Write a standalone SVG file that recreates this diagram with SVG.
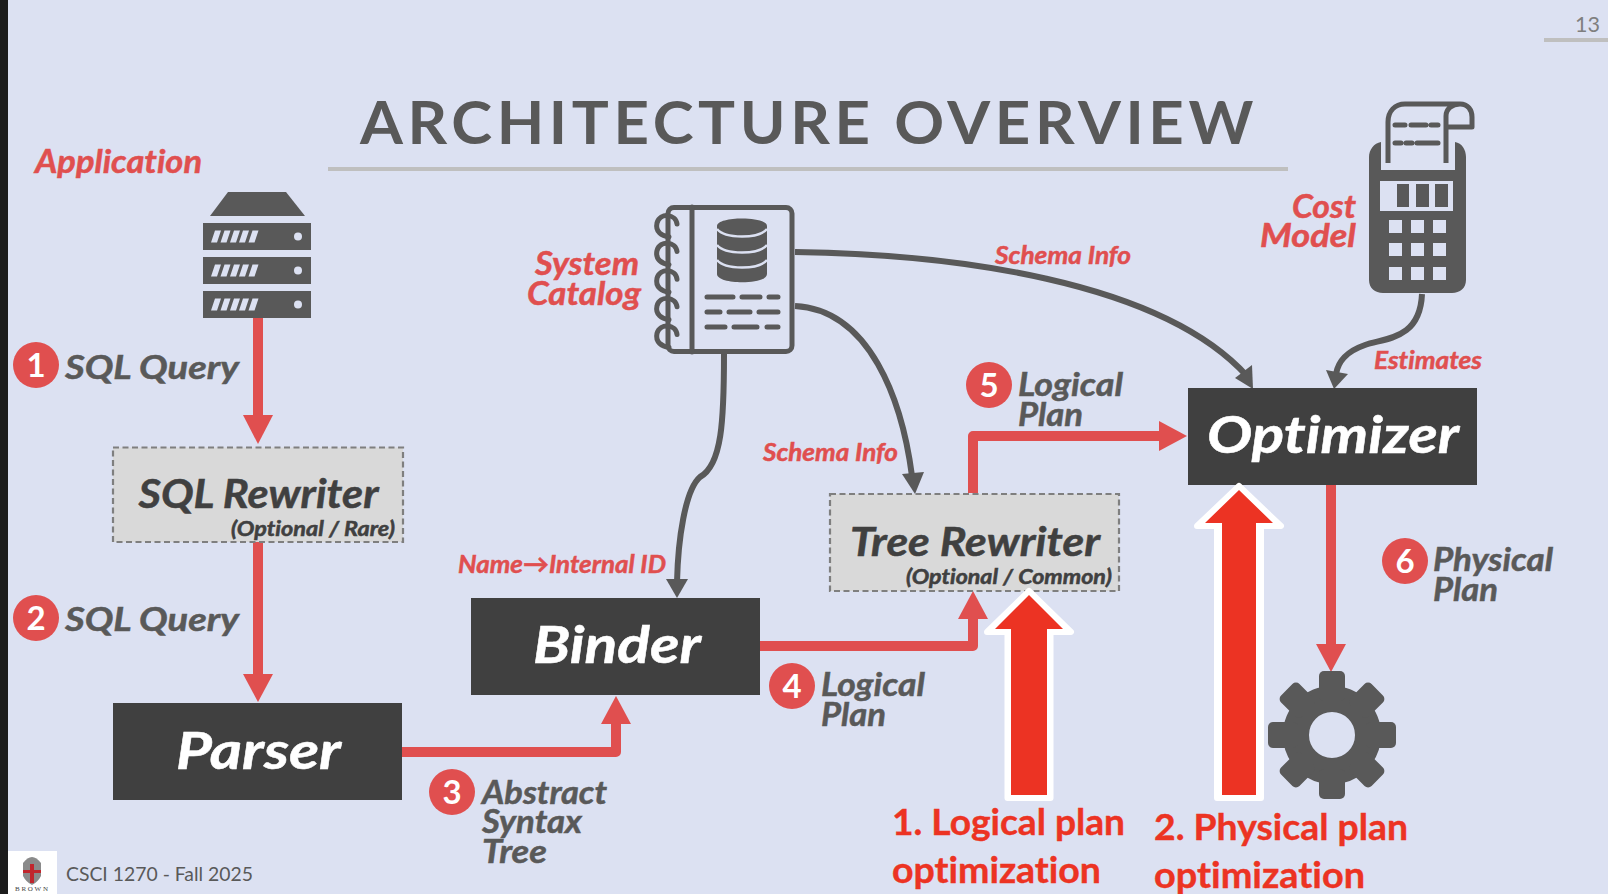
<svg xmlns="http://www.w3.org/2000/svg" width="1608" height="894" viewBox="0 0 1608 894">
<style>
text{font-family:Lato,"Liberation Sans",sans-serif;font-weight:700;font-style:italic;font-variant-ligatures:none}
.up{font-style:normal}
.gr{fill:#595959;stroke:#595959;stroke-width:.5}.dk{fill:#404040;stroke:#404040;stroke-width:.5}.rd{fill:#e04f4f;stroke:#e04f4f;stroke-width:.5}.wh{fill:#fff;stroke:#fff;stroke-width:.5}
.s30{font-size:33px}.s28{font-size:25px}.s42{font-size:40px}.s21{font-size:20px}.s54{font-size:52px}
.red{fill:none;stroke:#e04f4f;stroke-width:10;stroke-linejoin:round}
.redh{fill:#e04f4f}
.gl{fill:none;stroke:#595959;stroke-width:6}
.gh{fill:#595959}
.ic{fill:#595959}
.st{fill:none;stroke:#595959;stroke-width:5;stroke-linecap:round;stroke-linejoin:round}
.bl{fill:#404040}
.op{fill:#d9d9d9;stroke:#7f7f7f;stroke-width:2.2;stroke-dasharray:6 3.500}
.big{fill:#ec3323}
.bigw{fill:#fff;stroke:#fff;stroke-width:6;stroke-linejoin:round}
.num{fill:#fff;font-style:normal;font-size:33px;text-anchor:middle}
.bn{fill:#e04f4f}
.bt{fill:#ec3323;stroke:#ec3323;stroke-width:.4;font-style:normal;font-size:36px}
.sl{fill:#dce1f2}
</style>
<defs>
<g id="srv"><rect x="203" y="0" width="108" height="27" class="ic"/><circle cx="298" cy="13.500" r="4" class="sl"/><path class="sl" d="M215 7.500h6l-4 12h-6zM224.500 7.500h6l-4 12h-6zM234 7.500h6l-4 12h-6zM243 7.500h6l-4 12h-6zM252.500 7.500h6l-4 12h-6z"/></g>
<path id="coil" class="st" d="M677 224C676 214 660 212 657 223C655 232 662 236 669 237"/>
<rect id="tooth" x="-13" y="-64" width="26" height="30" rx="5" class="ic"/>
</defs>
<rect width="1608" height="894" fill="#dce1f2"/>
<rect width="8" height="894" fill="#1c1c1c"/>
<g id="slide-frame">
<text class="up" x="1575" y="32" font-size="22" fill="#7f7f7f" style="font-weight:400" textLength="25" lengthAdjust="spacingAndGlyphs">13</text>
<rect x="1544" y="38" width="64" height="4" fill="#bfbfbf"/>
<text class="up" fill="#595959" x="360" y="144" font-size="60" letter-spacing="4.500" textLength="898" lengthAdjust="spacingAndGlyphs">ARCHITECTURE OVERVIEW</text>
<rect x="328" y="167" width="960" height="4" fill="#bfbfbf"/>
<rect x="8" y="851" width="49" height="43" fill="#fff"/>
<path d="M23 863Q32 851 41 863V876Q38 882 32 885Q26 882 23 876Z" fill="#8a8a8a"/>
<path d="M30 864h4v6h7v3h-7v10h-4v-10h-7v-3h7z" fill="#c0262d"/>
<text class="up" x="15" y="891" font-size="7" fill="#444" textLength="33" style="font-family:'Liberation Serif',serif;font-weight:400">BROWN</text>
<text class="up" fill="#595959" x="66" y="881" font-size="20" style="font-weight:400" textLength="187" lengthAdjust="spacingAndGlyphs">CSCI 1270 - Fall 2025</text>
</g>
<g id="connectors">
<path class="red" d="M258 318V416"/><path class="redh" d="M243 415h30l-15 29z"/>
<path class="red" d="M258 542V675"/><path class="redh" d="M243 674h30l-15 28z"/>
<path class="red" d="M402 752H616V722"/><path class="redh" d="M601 724h30l-15 -28z"/>
<path class="red" d="M760 646H973V617"/><path class="redh" d="M958 619h30l-15 -28z"/>
<path class="red" d="M973 493V436H1162"/><path class="redh" d="M1159 421v30l28 -15z"/>
<path class="red" d="M1331 485V645"/><path class="redh" d="M1316 644h30l-15 28z"/>
<path class="gl" d="M795 252C950 254 1160 280 1247 376"/><path class="gh" d="M1235 378L1252 365L1253 389z"/>
<path class="gl" d="M795 306C870 310 902 400 912 476"/><path class="gh" d="M902 474L924 472L915 494z"/>
<path class="gl" d="M724 354C724 420 722 465 700 477C685 490 678 540 677 582"/><path class="gh" d="M666 579H688L677 598z"/>
<path class="gl" d="M1422 294C1420 340 1385 338 1365 345C1345 352 1338 362 1336 374"/><path class="gh" d="M1326 370L1348 374L1334 389z"/>
</g>
<g id="application"><text class="rd s30" x="35" y="173" textLength="167" lengthAdjust="spacingAndGlyphs">Application</text>
<path class="ic" d="M228 192H286L305 216H210Z"/>
<use href="#srv" y="223"/><use href="#srv" y="257"/><use href="#srv" y="291"/></g>
<g id="step1"><circle class="bn" cx="36" cy="365" r="23"/><text class="num" x="36" y="377">1</text><text class="gr s30" x="65" y="379" textLength="174" lengthAdjust="spacingAndGlyphs">SQL Query</text></g>
<g id="step2"><circle class="bn" cx="36" cy="618" r="23"/><text class="num" x="36" y="630">2</text><text class="gr s30" x="65" y="631" textLength="174" lengthAdjust="spacingAndGlyphs">SQL Query</text></g>
<g id="sql-rewriter"><rect class="op" x="113" y="447.500" width="290" height="94.500"/><text class="dk s42" x="138.500" y="508" textLength="240" lengthAdjust="spacingAndGlyphs">SQL Rewriter</text><text class="dk s21" x="231" y="536" textLength="164" lengthAdjust="spacingAndGlyphs">(Optional / Rare)</text></g>
<g id="parser"><rect class="bl" x="113" y="703" width="289" height="97"/><text class="wh s54" x="176" y="769" textLength="165" lengthAdjust="spacingAndGlyphs">Parser</text></g>
<g id="step3"><circle class="bn" cx="452" cy="792" r="23"/><text class="num" x="452" y="804">3</text><text class="gr s30" x="482" y="804" textLength="125" lengthAdjust="spacingAndGlyphs">Abstract</text><text class="gr s30" x="482" y="833" textLength="100" lengthAdjust="spacingAndGlyphs">Syntax</text><text class="gr s30" x="482" y="863" textLength="65" lengthAdjust="spacingAndGlyphs">Tree</text></g>
<g id="binder"><rect class="bl" x="471" y="598" width="289" height="97"/><text class="wh s54" x="533" y="663" textLength="168" lengthAdjust="spacingAndGlyphs">Binder</text><text class="rd s28" x="458" y="573" textLength="208" lengthAdjust="spacingAndGlyphs">Name→Internal ID</text></g>
<g id="step4"><circle class="bn" cx="792" cy="686" r="23"/><text class="num" x="792" y="698">4</text><text class="gr s30" x="821" y="696" textLength="104" lengthAdjust="spacingAndGlyphs">Logical</text><text class="gr s30" x="821" y="726" textLength="65" lengthAdjust="spacingAndGlyphs">Plan</text></g>
<g id="system-catalog"><text class="rd s30" x="535" y="275" textLength="104" lengthAdjust="spacingAndGlyphs">System</text><text class="rd s30" x="527" y="305" textLength="114" lengthAdjust="spacingAndGlyphs">Catalog</text>
<rect x="668" y="207.500" width="124" height="144" rx="6" class="st"/><path class="st" d="M692 207V352"/>
<use href="#coil"/><use href="#coil" y="27.600"/><use href="#coil" y="55.200"/><use href="#coil" y="82.800"/><use href="#coil" y="110.400"/>
<path class="ic" d="M717 226C717 216 767 216 767 226V274C767 285 717 285 717 274Z"/>
<path d="M717 229C725 239 759 239 767 229M717 245C725 255 759 255 767 245M717 260C725 270 759 270 767 260" fill="none" stroke="#dce1f2" stroke-width="2.500"/>
<path class="st" d="M707 297H733M742 297H760M769 297H778M707 312H720M729 312H750M759 312H778M707 327H725M734 327H757M767 327H778"/></g>
<g id="tree-rewriter"><rect class="op" x="830" y="494" width="289" height="97"/><text class="dk s42" x="850" y="556" textLength="250" lengthAdjust="spacingAndGlyphs">Tree Rewriter</text><text class="dk s21" x="906" y="584" textLength="206" lengthAdjust="spacingAndGlyphs">(Optional / Common)</text>
<text class="rd s28" x="763" y="461" textLength="135" lengthAdjust="spacingAndGlyphs">Schema Info</text></g>
<g id="step5"><circle class="bn" cx="989" cy="385" r="23"/><text class="num" x="989" y="397">5</text><text class="gr s30" x="1018" y="396" textLength="105" lengthAdjust="spacingAndGlyphs">Logical</text><text class="gr s30" x="1018" y="426" textLength="65" lengthAdjust="spacingAndGlyphs">Plan</text></g>
<g id="optimizer"><rect class="bl" x="1188" y="388" width="289" height="97"/><text class="wh s54" x="1207" y="453" textLength="252" lengthAdjust="spacingAndGlyphs">Optimizer</text><text class="rd s28" x="995" y="264" textLength="136" lengthAdjust="spacingAndGlyphs">Schema Info</text><text class="rd s28" x="1374" y="369" textLength="108" lengthAdjust="spacingAndGlyphs">Estimates</text></g>
<g id="cost-model"><text class="rd s30" x="1292" y="218" textLength="64" lengthAdjust="spacingAndGlyphs">Cost</text><text class="rd s30" x="1260" y="247" textLength="96" lengthAdjust="spacingAndGlyphs">Model</text>
<path class="ic" d="M1381 142V170H1455V142C1462 143 1466 150 1466 157V280C1466 288 1460 293 1452 293H1383C1375 293 1369 288 1369 280V157C1369 150 1374 143 1381 142Z"/>
<rect x="1380" y="181" width="73" height="30" class="sl"/>
<path class="ic" d="M1397 184h12v23h-12zM1416 184h13v23h-13zM1435 184h13v23h-13z"/>
<path class="sl" d="M1389 220h13v13h-13zM1411 220h13v13h-13zM1433 220h13v13h-13zM1389 243h13v13h-13zM1411 243h13v13h-13zM1433 243h13v13h-13zM1389 267h13v13h-13zM1411 267h13v13h-13zM1433 267h13v13h-13z"/>
<path class="st" style="stroke-linecap:butt" d="M1388 163V122C1388 111 1395 104 1405 104H1460C1468 104 1472 110 1472 117V127H1447M1446 163V116C1446 109 1452 104 1460 104"/>
<path class="st" d="M1395 125H1405M1411 125H1426M1431 125H1438M1395 143H1401M1406 143H1412M1417 143H1438"/></g>
<g id="step6"><circle class="bn" cx="1405" cy="561" r="23"/><text class="num" x="1405" y="573">6</text><text class="gr s30" x="1433" y="571" textLength="120" lengthAdjust="spacingAndGlyphs">Physical</text><text class="gr s30" x="1433" y="601" textLength="65" lengthAdjust="spacingAndGlyphs">Plan</text></g>
<g id="executor" transform="translate(1332 735)"><circle r="36" fill="none" stroke="#595959" stroke-width="26"/>
<use href="#tooth"/><use href="#tooth" transform="rotate(45)"/><use href="#tooth" transform="rotate(90)"/><use href="#tooth" transform="rotate(135)"/><use href="#tooth" transform="rotate(180)"/><use href="#tooth" transform="rotate(225)"/><use href="#tooth" transform="rotate(270)"/><use href="#tooth" transform="rotate(315)"/></g>
<g id="logical-optimization"><path class="bigw" d="M1029 591L1071 632H1050.500V798H1007.500V632H987Z"/><path class="big" d="M1029 595L1063 629H1047V795H1011V629H995Z"/><text class="bt" x="892" y="835" textLength="233" lengthAdjust="spacingAndGlyphs">1. Logical plan</text><text class="bt" x="892" y="883" textLength="209" lengthAdjust="spacingAndGlyphs">optimization</text></g>
<g id="physical-optimization"><path class="bigw" d="M1239 486L1281 526H1261V798H1217V526H1197Z"/><path class="big" d="M1239 490L1273 523H1256V795H1222V523H1205Z"/><text class="bt" x="1154" y="840" textLength="254" lengthAdjust="spacingAndGlyphs">2. Physical plan</text><text class="bt" x="1154" y="888" textLength="211" lengthAdjust="spacingAndGlyphs">optimization</text></g>
</svg>
